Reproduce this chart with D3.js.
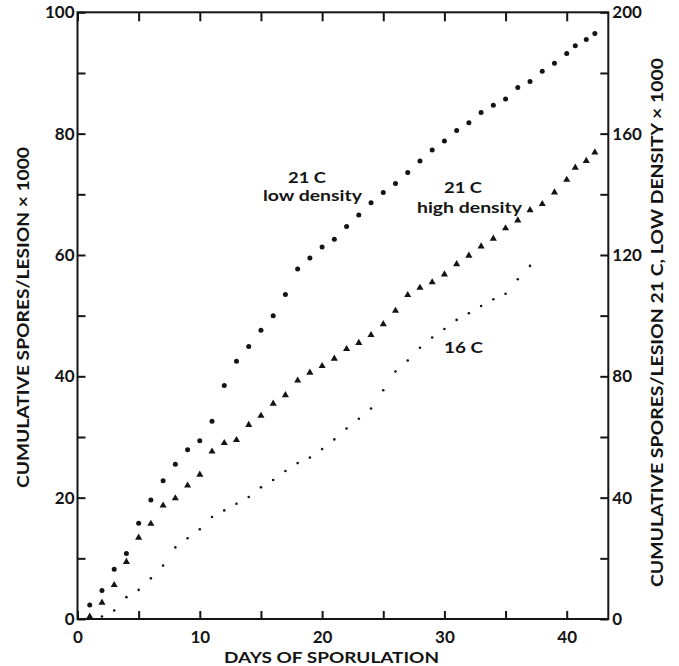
<!DOCTYPE html>
<html><head><meta charset="utf-8">
<script src="https://cdn.jsdelivr.net/npm/d3@7"></script>
<style>body{margin:0;background:#fff} svg{display:block}</style>
</head><body><svg id="c" width="679" height="666"></svg>
<script>
// ---- data ----
const days21 = [1,2,3,4,5,6,7,8,9,10,11,12,13,14,15,16,17,18,19,20,21,22,23,24,25,26,27,28,29,30,31,32,33,34,35,36,37,38,39,40,40.7,41.6,42.3];
// 21 C low density, read on the RIGHT axis (x 1000)
const lowDensity21 = [4.6,9.4,16.4,21.6,31.6,39.2,45.6,51,55.8,58.8,65.2,77,85,89.8,95.2,100,107,115.4,119,122.6,125.2,129.4,133.2,137.2,140.6,143.6,147.2,151,154.6,157.6,161,163.6,167,169.4,171.4,175.2,177.2,180.6,183.2,186.4,189,191,193];
// 21 C high density, read on the LEFT axis (x 1000)
const highDensity21 = [0.4,2.7,5.6,9.4,13.4,15.7,18.7,19.9,22.0,23.8,27.6,29.0,29.5,32.0,33.5,35.5,36.9,39.3,40.6,41.7,42.9,44.5,45.5,46.8,48.6,50.8,53.4,54.6,55.5,56.8,58.5,59.9,61.4,62.7,64.4,65.7,67.4,68.4,70.3,72.4,74.4,75.5,76.9];
// 16 C, LEFT axis
const days16 = [2,3,4,5,6,7,8,9,10,11,12,13,14,15,16,17,18,19,20,21,22,23,24,25,26,27,28,29,30,31,32,33,34,35,36,37];
const temp16 = [0.4,1.4,3.6,4.8,6.7,8.8,11.8,13.3,14.8,16.8,17.9,19.0,20.1,21.7,22.9,24.4,25.7,26.6,28.0,29.6,31.4,33.0,34.7,37.7,40.8,42.6,44.7,46.4,47.8,49.3,50.4,51.6,52.7,53.6,56.0,58.2];

const xTicks = [0,5,10,15,20,25,30,35,40];
const xTickLabels = [0,10,20,30,40];
const leftTicks = [0,10,20,30,40,50,60,70,80,90,100];
const leftTickLabels = [0,20,40,60,80,100];
const rightTicks = [0,20,40,60,80,100,120,140,160,180,200];
const rightTickLabels = [0,40,80,120,160,200];

const xTitle = "DAYS OF SPORULATION";
const leftTitle = "CUMULATIVE  SPORES/LESION   \u00d7 1000";
const rightTitle = "CUMULATIVE  SPORES/LESION   21 C,  LOW  DENSITY   \u00d7 1000";

// ---- layout ----
const L = 77.5, R = 608.3, T = 12.3, B = 619;
const ink = "#141414";
const font = "Lato, 'Open Sans', sans-serif";

const svg = d3.select("#c");
const x = d3.scaleLinear().domain([0, 43.4]).range([L, R]);
const yL = d3.scaleLinear().domain([0, 100]).range([B, T]);
const yR = d3.scaleLinear().domain([0, 200]).range([B, T]);

function styleAxis(g) {
  g.select(".domain").remove();
  g.selectAll(".tick line").attr("stroke", ink).attr("stroke-width", 2);
  g.selectAll(".tick text").attr("fill", ink).style("font-family", font)
    .style("font-size", "17px").style("font-weight", "700");
}

svg.append("g").attr("transform", `translate(0,${B})`)
  .call(d3.axisBottom(x).tickValues(xTicks).tickSizeInner(-8).tickSizeOuter(0).tickPadding(12)
    .tickFormat(d => xTickLabels.includes(d) ? d : ""))
  .call(styleAxis);
svg.append("g").attr("transform", `translate(0,${T})`)
  .call(d3.axisTop(x).tickValues(xTicks).tickSizeInner(-9).tickSizeOuter(0).tickFormat(""))
  .call(styleAxis);
svg.append("g").attr("transform", `translate(${L},0)`)
  .call(d3.axisLeft(yL).tickValues(leftTicks).tickSizeInner(-8).tickSizeOuter(0).tickPadding(3)
    .tickFormat(d => leftTickLabels.includes(d) ? d : ""))
  .call(styleAxis);
svg.append("g").attr("transform", `translate(${R},0)`)
  .call(d3.axisRight(yR).tickValues(rightTicks).tickSizeInner(-8).tickSizeOuter(0).tickPadding(4)
    .tickFormat(d => rightTickLabels.includes(d) ? d : ""))
  .call(styleAxis);

// frame
svg.append("rect").attr("x", L).attr("y", T).attr("width", R - L).attr("height", B - T)
  .attr("fill", "none").attr("stroke", ink).attr("stroke-width", 2);

// markers
svg.append("g").selectAll("circle").data(days21.map((d, i) => [d, lowDensity21[i]]))
  .join("circle").attr("cx", d => x(d[0])).attr("cy", d => yR(d[1])).attr("r", 2.5).attr("fill", ink);

const tri = d3.symbol().type(d3.symbolTriangle).size(22);
svg.append("g").selectAll("path").data(days21.map((d, i) => [d, highDensity21[i]]))
  .join("path").attr("d", tri).attr("fill", ink)
  .attr("transform", d => `translate(${x(d[0])},${yL(d[1])})`);

svg.append("g").selectAll("circle").data(days16.map((d, i) => [d, temp16[i]]))
  .join("circle").attr("cx", d => x(d[0])).attr("cy", d => yL(d[1])).attr("r", 1.3).attr("fill", ink);

// annotations
function txt(s, cx, cy, size, w, weight) {
  const t = svg.append("text").attr("x", cx).attr("y", cy).attr("text-anchor", "middle")
    .style("font-family", font).style("font-size", size + "px").style("font-weight", weight || "700")
    .attr("fill", ink).text(s);
  if (w) t.attr("textLength", w).attr("lengthAdjust", "spacingAndGlyphs");
  return t;
}
txt("21  C", 307, 182.5, 16, 38);
txt("low  density", 312.5, 201, 16, 99);
txt("21  C", 463, 193, 16, 38);
txt("high  density", 469.5, 213, 16, 105);
txt("16  C", 463.5, 353, 16, 39);

// axis titles
txt(xTitle, 331.5, 662.5, 15, 215);
txt(leftTitle, 0, 0, 17, 341).attr("transform", "translate(29,317.5) rotate(-90)");
txt(rightTitle, 0, 0, 17, 529).attr("transform", "translate(663,322.5) rotate(-90)");
</script></body></html>
